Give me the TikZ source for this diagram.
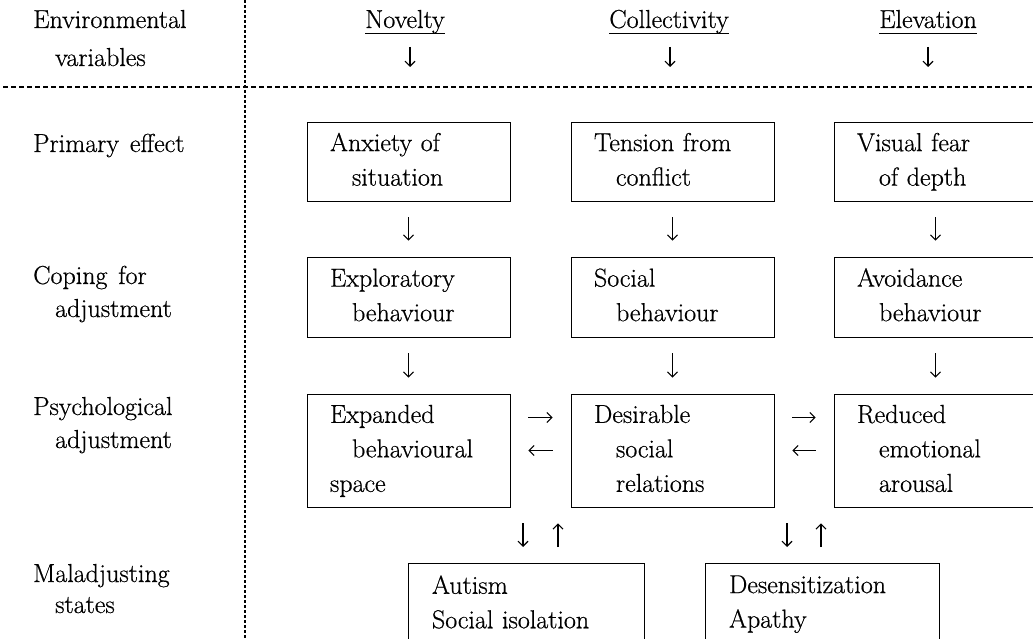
\documentclass[tikz,border=0pt]{standalone}
\usepackage{fontspec}
\setmainfont{Latin Modern Roman}[FakeBold=0.6]
\usetikzlibrary{arrows.meta,calc}
\newcommand\mainfs{\fontsize{26}{34.5}\selectfont\spaceskip=0.42em plus 0.1em minus 0.1em\relax}
\tikzset{
  box/.style={draw, line width=0.8pt, inner xsep=23pt, inner ysep=0pt, text width=157pt, align=left, font=\mainfs,
    execute at begin node=\strut, execute at end node=\strut},
  lowbox/.style={draw, line width=0.8pt, inner xsep=24pt, inner ysep=12pt, align=left, anchor=north, font=\mainfs},
  lbl/.style={anchor=base west, inner sep=0pt, font=\mainfs},
  hdr/.style={anchor=base, inner sep=0pt, font=\mainfs},
  arr/.style={line width=1.1pt, -{Straight Barb[length=5pt,width=10pt]}, shorten <=16pt, shorten >=16pt},
  harr/.style={line width=1.1pt, -{Straight Barb[length=5pt,width=10pt]}, shorten <=18pt, shorten >=18pt},
  hdrarr/.style={line width=1.1pt, -{Straight Barb[length=5pt,width=10pt]}, shorten <=19pt},
  uline/.style={line width=0.8pt},
  sepline/.style={line width=1.2pt, dash pattern=on 5pt off 3pt},
  vline/.style={line width=1.4pt, dash pattern=on 3pt off 2pt},
}
\begin{document}
\begin{tikzpicture}[x=1pt,y=-1pt]
\useasboundingbox (0,0) rectangle (1033,639);
\clip (0,0) rectangle (1033,639);

% separators
\draw[sepline] (3,87) -- (1033,87);
\draw[vline] (245,0) -- (245,639);

% left labels
\node[lbl] (l0a) at (33,28) {Environmental};
\node[lbl] (l0b) at (55,66) {variables};
\node[lbl] (l1a) at (33,152) {Primary effect};
\node[lbl] (l2a) at (33,284) {Coping for};
\node[lbl] (l2b) at (55,317) {adjustment};
\node[lbl] (l3a) at (33,415) {Psychological};
\node[lbl] (l3b) at (55,448) {adjustment};
\node[lbl] (l4a) at (33,582) {Maladjusting};
\node[lbl] (l4b) at (55,613) {states};

% header variables
\node[hdr] (nov) at (405,28) {Novelty};
\node[hdr] (col) at (669,28) {Collectivity};
\node[hdr] (ele) at (928,28) {Elevation};
\foreach \n in {nov,col,ele}{
  \draw[uline] ([yshift=-5.5pt]\n.base west) -- ([yshift=-5.5pt]\n.base east);
}
\coordinate (nove) at (410,67);
\coordinate (cole) at (670,67);
\coordinate (elee) at (928,67);
\draw[hdrarr] (nov.base -| nove) -- (nove);
\draw[hdrarr] (col.base -| cole) -- (cole);
\draw[hdrarr] (ele.base -| elee) -- (elee);

% row 1
\node[box, minimum height=79pt] (a1) at (408.5,161.5) {Anxiety of\\\hspace*{22pt}situation};
\node[box, minimum height=79pt] (a2) at (672.5,161.5) {Tension from\\\hspace*{22pt}conflict};
\node[box, minimum height=79pt] (a3) at (935.5,161.5) {Visual fear\\\hspace*{22pt}of depth};
% row 2
\node[box, minimum height=80pt] (b1) at (408.5,297) {Exploratory\\\hspace*{22pt}behaviour};
\node[box, minimum height=80pt] (b2) at (672.5,297) {Social\\\hspace*{22pt}behaviour};
\node[box, minimum height=80pt] (b3) at (935.5,297) {Avoidance\\\hspace*{22pt}behaviour};
% row 3
\node[box, minimum height=113pt] (c1) at (408.5,450.5) {Expanded\\\hspace*{22pt}behavioural\\space};
\node[box, minimum height=113pt] (c2) at (672.5,450.5) {Desirable\\\hspace*{22pt}social\\\hspace*{22pt}relations};
\node[box, minimum height=113pt] (c3) at (935.5,450.5) {Reduced\\\hspace*{22pt}emotional\\\hspace*{22pt}arousal};
% row 4
\node[lowbox, text width=188pt] (d1) at (526,563) {Autism\\Social isolation\\\strut};
\node[lowbox, text width=186pt] (d2) at (822,563) {Desensitization\\Apathy\\\strut};

% vertical arrows
\draw[arr] (a1) -- (b1);
\draw[arr] (a2) -- (b2);
\draw[arr] (a3) -- (b3);
\draw[arr] (b1) -- (c1);
\draw[arr] (b2) -- (c2);
\draw[arr] (b3) -- (c3);

% horizontal arrows
\draw[harr] ([yshift=33pt]c1.east) -- ([yshift=33pt]c2.west);
\draw[harr] (c2.west) -- (c1.east);
\draw[harr] ([yshift=33pt]c2.east) -- ([yshift=33pt]c3.west);
\draw[harr] (c3.west) -- (c2.east);

% arrows to maladjusting states
\coordinate (m1) at ($(c1.south east)!0.5!(c2.south west)$);
\coordinate (m2) at ($(c2.south east)!0.5!(c3.south west)$);
\coordinate (m1l) at ($(m1)+(-17.5,0)$);
\coordinate (m1r) at ($(m1)+(17.5,0)$);
\coordinate (m2l) at ($(m2)+(-17,0)$);
\coordinate (m2r) at ($(m2)+(17,0)$);
\draw[arr] (m1l) -- (m1l |- d1.north);
\draw[arr] (m1r |- d1.north) -- (m1r);
\draw[arr] (m2l) -- (m2l |- d2.north);
\draw[arr] (m2r |- d2.north) -- (m2r);
\end{tikzpicture}
\end{document}
